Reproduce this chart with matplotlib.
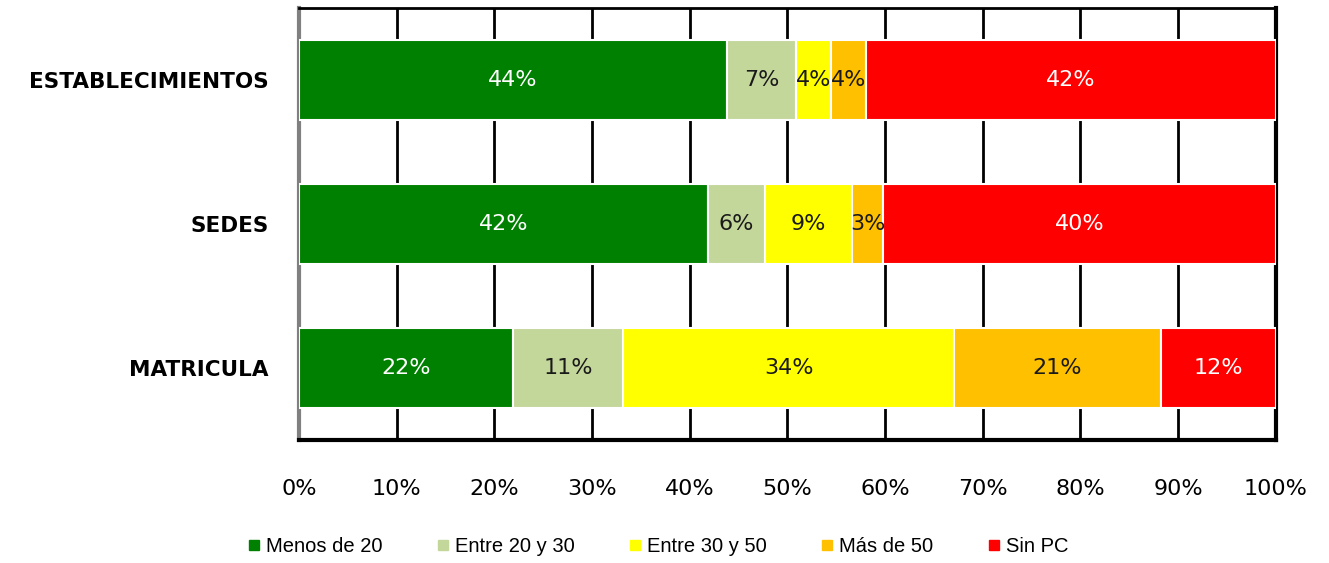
import matplotlib.pyplot as plt
import numpy as np
from matplotlib.lines import Line2D

categories = ["ESTABLECIMIENTOS", "SEDES", "MATRICULA"]
series_names = ["Menos de 20", "Entre 20 y 30", "Entre 30 y 50", "Más de 50", "Sin PC"]
colors = ["#008000", "#c4d79b", "#ffff00", "#ffc000", "#ff0000"]
label_colors = ["white", "#1a1a1a", "#1a1a1a", "#1a1a1a", "white"]

menos_20 = [43.8, 41.9, 21.9]
entre_20_30 = [7.1, 5.8, 11.3]
entre_30_50 = [3.6, 8.9, 33.9]
mas_50 = [3.5, 3.2, 21.1]
sin_pc = [42.0, 40.2, 11.8]
series = [menos_20, entre_20_30, entre_30_50, mas_50, sin_pc]

fig = plt.figure(figsize=(13.29, 5.63), dpi=100)
ax = fig.add_axes([0.225, 0.2185, 0.735, 0.7675])

y = np.arange(len(categories))
left = np.zeros(len(categories))
for vals, col, lc in zip(series, colors, label_colors):
    vals = np.array(vals)
    ax.barh(y, vals, left=left, height=0.55, color=col, edgecolor="white",
            linewidth=1.5, zorder=3)
    for yi, l, v in zip(y, left, vals):
        ax.text(l + v / 2, yi, f"{v:.0f}%", ha="center", va="center",
                fontsize=16, color=lc, zorder=4)
    left += vals

ax.set_xlim(0, 100)
ax.set_ylim(2.5, -0.5)
ax.set_xticks(np.arange(0, 101, 10))
ax.set_xticklabels([f"{t}%" for t in range(0, 101, 10)], fontsize=16)
ax.tick_params(axis="x", length=0, pad=28)
ax.tick_params(axis="y", length=0, pad=22)
ax.set_yticks(y)
ax.set_yticklabels(categories, fontsize=15.5, fontweight="bold")
ax.grid(axis="x", color="black", linewidth=2, zorder=0)
ax.set_axisbelow(True)

ax.spines["left"].set_color("#808080")
ax.spines["left"].set_linewidth(3)
ax.spines["bottom"].set_linewidth(3)
ax.spines["right"].set_linewidth(3)
ax.spines["top"].set_linewidth(2)

handles = [Line2D([], [], marker="s", linestyle="", markersize=7,
                  markerfacecolor=c, markeredgecolor=c) for c in colors]
fig.legend(handles, series_names, loc="center", bbox_to_anchor=(0.493, 0.03),
           ncol=5, frameon=False, handletextpad=0.0, columnspacing=2.4,
           handlelength=1.2,
           prop={"family": ["Liberation Sans", "DejaVu Sans"], "size": 14.5})

fig.savefig("out.png", dpi=100)
